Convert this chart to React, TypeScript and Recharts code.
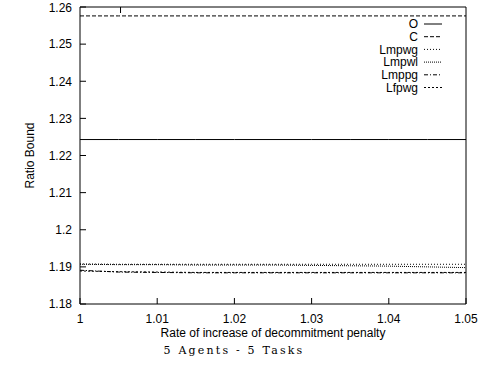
import { Legend, Line, LineChart, XAxis, YAxis } from "recharts";

const rates = [1, 1.005, 1.01, 1.015, 1.02, 1.025, 1.03, 1.035, 1.04, 1.045, 1.05];
const seriesO = [1.2243, 1.2243, 1.2243, 1.2243, 1.2243, 1.2243, 1.2243, 1.2243, 1.2243, 1.2243, 1.2243];
const seriesC = [1.2576, 1.2576, 1.2576, 1.2576, 1.2576, 1.2576, 1.2576, 1.2576, 1.2576, 1.2576, 1.2576];
const seriesLmpwg = [1.1908, 1.1907, 1.1907, 1.1907, 1.1907, 1.1907, 1.1907, 1.1907, 1.1907, 1.1907, 1.1907];
const seriesLmpwl = [1.1907, 1.1906, 1.1906, 1.1905, 1.1905, 1.1905, 1.1904, 1.1903, 1.1902, 1.19, 1.1898];
const seriesLmppg = [1.1891, 1.1886, 1.1885, 1.1884, 1.1884, 1.1884, 1.1884, 1.1884, 1.1884, 1.1884, 1.1884];
const seriesLfpwg = [1.1889, 1.1887, 1.1886, 1.1885, 1.1885, 1.1885, 1.1885, 1.1885, 1.1885, 1.1885, 1.1885];

const xTicks = [1, 1.01, 1.02, 1.03, 1.04, 1.05];
const yTicks = [1.18, 1.19, 1.2, 1.21, 1.22, 1.23, 1.24, 1.25, 1.26];

const series = [
  { key: "O", dash: undefined as string | undefined },
  { key: "C", dash: "4 2" },
  { key: "Lmpwg", dash: "1 2" },
  { key: "Lmpwl", dash: "1 1" },
  { key: "Lmppg", dash: "4 2 1 2" },
  { key: "Lfpwg", dash: "2 2" },
];

const data = rates.map((r, i) => ({
  r,
  O: seriesO[i],
  C: seriesC[i],
  Lmpwg: seriesLmpwg[i],
  Lmpwl: seriesLmpwl[i],
  Lmppg: seriesLmppg[i],
  Lfpwg: seriesLfpwg[i],
}));

const font = "'Liberation Sans', Arial, sans-serif";
const tickStyle = { fontSize: 12, fill: "#000", fontFamily: font };

function KeyBox() {
  return (
    <svg width={120} height={80}>
      {series.map((s, i) => (
        <g key={s.key}>
          <text
            x={78}
            y={7 + i * 12.7}
            dy="0.35em"
            textAnchor="end"
            fontSize={12}
            fontFamily={font}
            fill="#000"
          >
            {s.key}
          </text>
          <line
            x1={84}
            x2={102}
            y1={7 + i * 12.7}
            y2={7 + i * 12.7}
            stroke="#000"
            strokeDasharray={s.dash}
          />
        </g>
      ))}
    </svg>
  );
}

export default function App() {
  return (
    <div style={{ position: "absolute", left: 0, top: 0, width: 478, height: 366, background: "#fff" }}>
      <LineChart width={478} height={366} data={data} margin={{ top: 0, right: 0, bottom: 27, left: 0 }}>
        <XAxis
          dataKey="r"
          type="number"
          domain={[1, 1.05]}
          ticks={xTicks}
          height={35}
          tickSize={-6}
          tickMargin={16}
          tick={tickStyle}
          stroke="#000"
          label={{ value: "Rate of increase of decommitment penalty", position: "insideBottom", offset: 2, fontSize: 12, fill: "#000", fontFamily: font }}
        />
        <XAxis
          xAxisId="top"
          orientation="top"
          type="number"
          domain={[1, 1.05]}
          ticks={xTicks}
          height={7}
          tickSize={-6}
          tickFormatter={() => ""}
          stroke="#000"
        />
        <YAxis
          type="number"
          domain={[1.18, 1.26]}
          ticks={yTicks}
          width={80}
          tickSize={-6}
          tickMargin={14}
          tick={tickStyle}
          stroke="#000"
          label={{ value: "Ratio Bound", angle: -90, position: "insideLeft", offset: 30, fontSize: 12, fill: "#000", fontFamily: font, style: { textAnchor: "middle" } }}
        />
        <YAxis
          yAxisId="r"
          orientation="right"
          type="number"
          domain={[1.18, 1.26]}
          ticks={yTicks}
          width={12}
          tickSize={-6}
          tickFormatter={() => ""}
          stroke="#000"
        />
        <Legend
          layout="horizontal"
          verticalAlign="middle"
          align="center"
          content={() => <KeyBox />}
          wrapperStyle={{ top: 17, left: 340, width: 120, height: 80 }}
        />
        {series.map((s) => (
          <Line
            key={s.key}
            dataKey={s.key}
            stroke="#000"
            strokeWidth={1}
            strokeDasharray={s.dash}
            dot={false}
            type="linear"
            isAnimationActive={false}
          />
        ))}
      </LineChart>
      <div
        style={{
          position: "absolute",
          left: 0,
          width: 468,
          top: 344,
          textAlign: "center",
          fontFamily: "'DejaVu Serif', serif",
          fontSize: 11,
          letterSpacing: 2.2,
        }}
      >
        5 Agents - 5 Tasks
      </div>
    </div>
  );
}
